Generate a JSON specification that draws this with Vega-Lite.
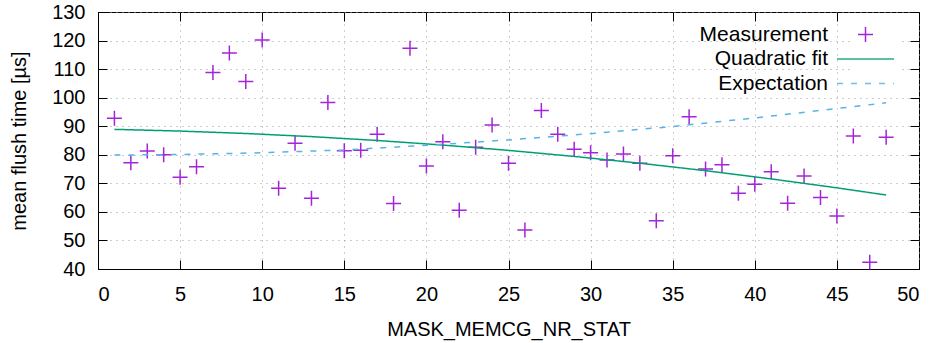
{
  "$schema": "https://vega.github.io/schema/vega-lite/v6.json",
  "width": 821,
  "height": 257,
  "autosize": {"type": "none"},
  "padding": {"left": 98, "top": 12, "right": 19, "bottom": 74},
  "background": "white",
  "config": {
    "font": "Liberation Sans",
    "view": {"stroke": "#000", "strokeWidth": 1},
    "axis": {
      "labelFont": "Liberation Sans",
      "titleFont": "Liberation Sans",
      "labelFontSize": 20,
      "titleFontSize": 20,
      "titleFontWeight": "normal",
      "labelColor": "#000",
      "titleColor": "#000",
      "domainColor": "#000",
      "tickColor": "#000",
      "gridColor": "#9a9a9a",
      "gridDash": [1, 5],
      "gridWidth": 1,
      "tickSize": -9,
      "tickWidth": 1
    },
    "legend": {
      "title": null,
      "orient": "none",
      "legendX": 753,
      "legendY": 8,
      "labelFont": "Liberation Sans",
      "labelFontSize": 21,
      "labelColor": "#000",
      "labelAlign": "right",
      "labelOffset": -48,
      "labelLimit": 300,
      "symbolSize": 225,
      "symbolStrokeWidth": 1.5,
      "fillColor": "white",
      "padding": 4,
      "rowPadding": 2.5
    }
  },
  "datasets": {
    "pts": [
      {"x": 1, "y": 92.8, "series": "Measurement"},
      {"x": 2, "y": 77.2, "series": "Measurement"},
      {"x": 3, "y": 81.3, "series": "Measurement"},
      {"x": 4, "y": 80.0, "series": "Measurement"},
      {"x": 5, "y": 72.1, "series": "Measurement"},
      {"x": 6, "y": 75.8, "series": "Measurement"},
      {"x": 7, "y": 108.8, "series": "Measurement"},
      {"x": 8, "y": 115.6, "series": "Measurement"},
      {"x": 9, "y": 105.7, "series": "Measurement"},
      {"x": 10, "y": 120.2, "series": "Measurement"},
      {"x": 11, "y": 68.3, "series": "Measurement"},
      {"x": 12, "y": 84.0, "series": "Measurement"},
      {"x": 13, "y": 64.8, "series": "Measurement"},
      {"x": 14, "y": 98.3, "series": "Measurement"},
      {"x": 15, "y": 81.4, "series": "Measurement"},
      {"x": 16, "y": 81.6, "series": "Measurement"},
      {"x": 17, "y": 87.2, "series": "Measurement"},
      {"x": 18, "y": 62.9, "series": "Measurement"},
      {"x": 19, "y": 117.3, "series": "Measurement"},
      {"x": 20, "y": 76.1, "series": "Measurement"},
      {"x": 21, "y": 84.6, "series": "Measurement"},
      {"x": 22, "y": 60.6, "series": "Measurement"},
      {"x": 23, "y": 82.6, "series": "Measurement"},
      {"x": 24, "y": 90.4, "series": "Measurement"},
      {"x": 25, "y": 77.0, "series": "Measurement"},
      {"x": 26, "y": 53.7, "series": "Measurement"},
      {"x": 27, "y": 95.5, "series": "Measurement"},
      {"x": 28, "y": 87.2, "series": "Measurement"},
      {"x": 29, "y": 81.9, "series": "Measurement"},
      {"x": 30, "y": 80.7, "series": "Measurement"},
      {"x": 31, "y": 78.2, "series": "Measurement"},
      {"x": 32, "y": 80.3, "series": "Measurement"},
      {"x": 33, "y": 77.0, "series": "Measurement"},
      {"x": 34, "y": 56.9, "series": "Measurement"},
      {"x": 35, "y": 79.7, "series": "Measurement"},
      {"x": 36, "y": 93.3, "series": "Measurement"},
      {"x": 37, "y": 75.0, "series": "Measurement"},
      {"x": 38, "y": 76.5, "series": "Measurement"},
      {"x": 39, "y": 66.5, "series": "Measurement"},
      {"x": 40, "y": 69.7, "series": "Measurement"},
      {"x": 41, "y": 74.1, "series": "Measurement"},
      {"x": 42, "y": 63.0, "series": "Measurement"},
      {"x": 43, "y": 72.6, "series": "Measurement"},
      {"x": 44, "y": 65.0, "series": "Measurement"},
      {"x": 45, "y": 58.6, "series": "Measurement"},
      {"x": 46, "y": 86.6, "series": "Measurement"},
      {"x": 47, "y": 42.4, "series": "Measurement"},
      {"x": 48, "y": 86.1, "series": "Measurement"}
    ],
    "lines": [
      {"x": 1, "y": 88.9, "series": "Quadratic fit"},
      {"x": 5, "y": 88.3, "series": "Quadratic fit"},
      {"x": 9, "y": 87.46, "series": "Quadratic fit"},
      {"x": 13, "y": 86.36, "series": "Quadratic fit"},
      {"x": 17, "y": 85.01, "series": "Quadratic fit"},
      {"x": 21, "y": 83.4, "series": "Quadratic fit"},
      {"x": 25, "y": 81.54, "series": "Quadratic fit"},
      {"x": 29, "y": 79.42, "series": "Quadratic fit"},
      {"x": 33, "y": 77.05, "series": "Quadratic fit"},
      {"x": 37, "y": 74.43, "series": "Quadratic fit"},
      {"x": 41, "y": 71.55, "series": "Quadratic fit"},
      {"x": 45, "y": 68.42, "series": "Quadratic fit"},
      {"x": 48, "y": 65.91, "series": "Quadratic fit"},
      {"x": 1, "y": 79.9, "series": "Expectation"},
      {"x": 5, "y": 80.1, "series": "Expectation"},
      {"x": 10, "y": 80.7, "series": "Expectation"},
      {"x": 15, "y": 81.7, "series": "Expectation"},
      {"x": 20, "y": 83.3, "series": "Expectation"},
      {"x": 25, "y": 85.2, "series": "Expectation"},
      {"x": 30, "y": 87.4, "series": "Expectation"},
      {"x": 35, "y": 89.9, "series": "Expectation"},
      {"x": 40, "y": 92.9, "series": "Expectation"},
      {"x": 45, "y": 96.2, "series": "Expectation"},
      {"x": 48, "y": 98.2, "series": "Expectation"}
    ]
  },
  "layer": [
    {
      "data": {"name": "pts"},
      "mark": {"type": "point", "filled": false, "strokeWidth": 1.5, "size": 225, "opacity": 0.85},
      "encoding": {
        "x": {
          "field": "x", "type": "quantitative",
          "scale": {"domain": [0, 50], "nice": false, "zero": false},
          "axis": {"orient": "bottom", "values": [0, 5, 10, 15, 20, 25, 30, 35, 40, 45, 50], "title": "MASK_MEMCG_NR_STAT", "grid": true, "labelPadding": 24, "titlePadding": 15}
        },
        "y": {
          "field": "y", "type": "quantitative",
          "scale": {"domain": [40, 130], "nice": false, "zero": false},
          "axis": {"orient": "left", "values": [40, 50, 60, 70, 80, 90, 100, 110, 120, 130], "title": "mean flush time [µs]", "grid": true, "labelPadding": 22, "titlePadding": 22}
        },
        "color": {
          "field": "series", "type": "nominal",
          "scale": {"domain": ["Measurement", "Quadratic fit", "Expectation"], "range": ["#9400d3", "#009e73", "#56b4e9"]}
        },
        "shape": {
          "field": "series", "type": "nominal",
          "scale": {"domain": ["Measurement", "Quadratic fit", "Expectation"], "range": ["M-1,0H1M0,-1V1", "M-3.8,0H3.8", "M-3.8,0H3.8"]}
        }
      }
    },
    {
      "data": {"name": "lines"},
      "mark": {"type": "line", "strokeWidth": 1.5},
      "encoding": {
        "x": {
          "field": "x", "type": "quantitative",
          "axis": {"orient": "top", "values": [0, 5, 10, 15, 20, 25, 30, 35, 40, 45, 50], "labels": false, "title": null, "grid": false, "domain": false}
        },
        "y": {
          "field": "y", "type": "quantitative",
          "axis": {"orient": "right", "values": [40, 50, 60, 70, 80, 90, 100, 110, 120, 130], "labels": false, "title": null, "grid": false, "domain": false}
        },
        "color": {
          "field": "series", "type": "nominal",
          "scale": {"domain": ["Measurement", "Quadratic fit", "Expectation"], "range": ["#9400d3", "#009e73", "#56b4e9"]}
        },
        "strokeDash": {
          "field": "series", "type": "nominal",
          "scale": {"domain": ["Measurement", "Quadratic fit", "Expectation"], "range": [[1, 0], [1, 0], [6, 8]]}
        }
      }
    }
  ],
  "resolve": {"axis": {"x": "independent", "y": "independent"}}
}
